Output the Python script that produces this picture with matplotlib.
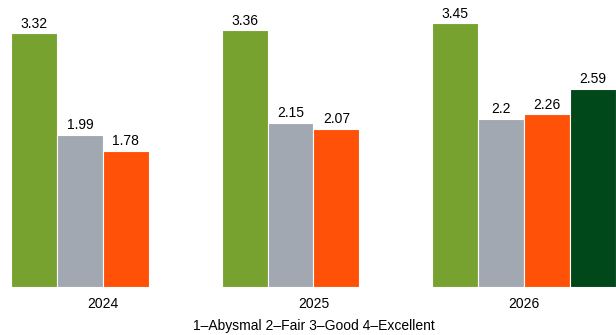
import numpy as np
import matplotlib
matplotlib.use("Agg")
import matplotlib.pyplot as plt

plt.rcParams['font.family'] = ['Liberation Sans', 'DejaVu Sans']

years = ['2024', '2025', '2026']
series_a = [3.32, 3.36, 3.45]
series_b = [1.99, 2.15, 2.2]
series_c = [1.78, 2.07, 2.26]
series_d = [np.nan, np.nan, 2.59]
colors = ['#78A22F', '#A2A8B2', '#FF5208', '#00471A']
note = '1\u2013Abysmal 2\u2013Fair 3\u2013Good 4\u2013Excellent'

fig = plt.figure(figsize=(6.16, 3.35), dpi=100)
ax = fig.add_axes([0, 0.1433, 1, 0.8567])

x = np.arange(len(years))
width = 0.218
all_series = [series_a, series_b, series_c, series_d]
for i, (vals, c) in enumerate(zip(all_series, colors)):
    pos = x + (i - 1.5) * width
    bars = ax.bar(pos, vals, width, color=c, edgecolor='white', linewidth=0.8)
    for b, v in zip(bars, vals):
        if np.isnan(v):
            continue
        ax.annotate(f'{v:g}', (b.get_x() + b.get_width() / 2, v),
                    xytext=(0, 2), textcoords='offset points',
                    ha='center', va='bottom', fontsize=10)

ax.set_xlim(-0.488, 2.436)
ax.set_ylim(0, 3.757)
ax.set_xticks(x)
ax.set_xticklabels(years, fontsize=10)
ax.tick_params(axis='x', length=0, pad=7)
ax.set_yticks([])
for s in ax.spines.values():
    s.set_visible(False)

# reference crops this line at the bottom edge; keep it just inside
fig.text(314 / 616, 2 / 335, note, ha='center', va='bottom', fontsize=10)

fig.savefig('out.png', dpi=100)
